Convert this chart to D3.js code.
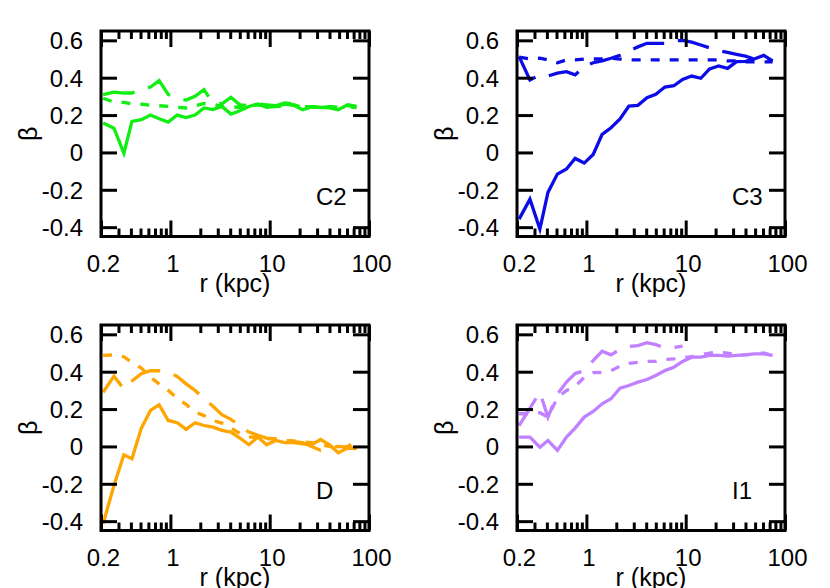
<!DOCTYPE html>
<html>
<head>
<meta charset="utf-8">
<script src="https://cdn.jsdelivr.net/npm/d3@7"></script>
<style>
  html, body { margin: 0; padding: 0; background: #fff; }
  svg { display: block; }
  text { font-family: "Liberation Sans", Arial, Helvetica, sans-serif; fill: #000; }
</style>
</head>
<body>
<svg id="chart" width="830" height="588"></svg>
<script>
// ---------------- data ----------------
const radius = [0.21, 0.27, 0.34, 0.41, 0.51, 0.63, 0.77, 0.95, 1.17, 1.44, 1.77, 2.18, 2.68, 3.3, 4.07,
                5.0, 6.17, 7.6, 9.3, 11.5, 14.2, 17.4, 21.5, 26.4, 32.5, 40, 49, 61, 75];

const c2Solid = [0.157, 0.13, -0.004, 0.166, 0.175, 0.2, 0.18, 0.162, 0.2, 0.187, 0.2, 0.238, 0.229, 0.246, 0.205,
                 0.223, 0.246, 0.259, 0.241, 0.246, 0.259, 0.252, 0.229, 0.243, 0.241, 0.238, 0.229, 0.255, 0.246];
const c2Short = [0.29, 0.27, 0.268, 0.26, 0.258, 0.252, 0.25, 0.246, 0.241, 0.238, 0.25, 0.262, 0.258, 0.246, 0.244,
                 0.242, 0.25, 0.255, 0.25, 0.245, 0.25, 0.255, 0.24, 0.245, 0.24, 0.245, 0.24, 0.25, 0.245];
const c2Long  = [0.31, 0.323, 0.318, 0.318, 0.336, 0.35, 0.384, 0.31, 0.29, 0.28, 0.3, 0.336, 0.264, 0.26, 0.295,
                 0.255, 0.25, 0.26, 0.255, 0.25, 0.265, 0.26, 0.245, 0.245, 0.24, 0.245, 0.24, 0.245, 0.24];

const c3Solid = [-0.357, -0.25, -0.41, -0.214, -0.116, -0.089, -0.032, -0.057, -0.011, 0.097, 0.132, 0.179, 0.248, 0.252, 0.293,
                 0.311, 0.35, 0.357, 0.391, 0.409, 0.397, 0.447, 0.463, 0.45, 0.486, 0.487, 0.5, 0.52, 0.49];
const c3Short = [0.51, 0.5, 0.505, 0.495, 0.48, 0.495, 0.495, 0.5, 0.5, 0.5, 0.505, 0.5, 0.495, 0.495, 0.495,
                 0.495, 0.495, 0.495, 0.495, 0.495, 0.495, 0.495, 0.495, 0.49, 0.49, 0.485, 0.485, 0.485, 0.485];
const c3Long  = [0.513, 0.388, 0.415, 0.409, 0.424, 0.432, 0.415, 0.46, 0.48, 0.49, 0.504, 0.52, 0.543, 0.565, 0.584,
                 0.584, 0.584, 0.597, 0.6, 0.59, 0.575, 0.56, 0.545, 0.535, 0.525, 0.515, 0.5, 0.495, 0.49];

const dSolid  = [-0.414, -0.209, -0.045, -0.066, 0.098, 0.193, 0.223, 0.139, 0.127, 0.091, 0.127, 0.112, 0.103, 0.086, 0.077,
                 0.045, 0.009, 0.05, 0.009, 0.032, 0.02, 0.02, 0.014, 0.009, 0.037, 0.009, -0.034, -0.009, -0.012];
const dShort  = [0.487, 0.49, 0.48, 0.45, 0.42, 0.37, 0.335, 0.3, 0.258, 0.225, 0.184, 0.165, 0.139, 0.125, 0.098,
                 0.07, 0.05, 0.05, 0.04, 0.04, 0.032, 0.03, 0.025, 0.02, 0.01, 0.0, -0.01, 0.0, 0.03];
const dLong   = [0.29, 0.376, 0.308, 0.35, 0.389, 0.405, 0.405, 0.397, 0.375, 0.335, 0.3, 0.258, 0.215, 0.17, 0.145,
                 0.11, 0.077, 0.06, 0.045, 0.04, 0.03, 0.025, 0.02, 0.0, -0.02, -0.01, 0.0, -0.005, -0.01];

const i1Solid = [0.05, 0.05, -0.004, 0.032, -0.021, 0.05, 0.098, 0.157, 0.187, 0.228, 0.255, 0.312, 0.326, 0.344, 0.358,
                 0.38, 0.406, 0.424, 0.455, 0.478, 0.478, 0.487, 0.487, 0.483, 0.487, 0.49, 0.495, 0.495, 0.487];
const i1Short = [0.175, 0.175, 0.18, 0.157, 0.26, 0.3, 0.32, 0.37, 0.395, 0.397, 0.405, 0.43, 0.445, 0.45, 0.455,
                 0.455, 0.465, 0.469, 0.475, 0.48, 0.49, 0.5, 0.505, 0.5, 0.49, 0.49, 0.495, 0.5, 0.487];
const i1Long  = [0.112, 0.205, 0.29, 0.157, 0.28, 0.345, 0.39, 0.405, 0.46, 0.51, 0.49, 0.52, 0.535, 0.54, 0.555,
                 0.545, 0.526, 0.53, 0.537];

const panelNames  = ["C2", "C3", "D", "I1"];
const panelColors = ["#11ee11", "#0c0ce8", "#ffa500", "#c080ff"];
const panelSeries = [[c2Solid, c2Short, c2Long], [c3Solid, c3Short, c3Long], [dSolid, dShort, dLong], [i1Solid, i1Short, i1Long]];
const lineDashes  = [null, "9,10", "32,14"];

const xMajorTicks  = [0.2, 1, 10, 100];
const xMajorLabels = ["0.2", "1", "10", "100"];
const xMinorTicks  = [0.3, 0.4, 0.5, 0.6, 0.7, 0.8, 0.9, 2, 3, 4, 5, 6, 7, 8, 9, 20, 30, 40, 50, 60, 70, 80, 90];
const yTicks       = [-0.4, -0.2, 0, 0.2, 0.4, 0.6];
const yTickLabels  = ["-0.4", "-0.2", "0", "0.2", "0.4", "0.6"];
const xTitle = "r (kpc)";
const yTitle = "β";

// ---------------- layout ----------------
const svg = d3.select("#chart");
const plotW = 268, plotH = 205.5;
const origins = [[101, 31], [517, 31], [101, 325], [517, 325]];

panelNames.forEach((name, pi) => {
  const [ox, oy] = origins[pi];
  const g = svg.append("g").attr("transform", `translate(${ox},${oy})`);

  const x = d3.scaleLog().domain([0.2, 100]).range([0, plotW]);
  const y = d3.scaleLinear().domain([-0.45, 0.65]).range([plotH, 0]);

  const clipId = "clip" + pi;
  g.append("clipPath").attr("id", clipId)
    .append("rect").attr("x", 0).attr("y", 0).attr("width", plotW).attr("height", plotH);

  // data lines
  const line = d3.line().x(d => x(d[0])).y(d => y(d[1]));
  const lg = g.append("g").attr("clip-path", `url(#${clipId})`);
  panelSeries[pi].forEach((vals, si) => {
    const pts = vals.map((v, i) => [radius[i], v]);
    lg.append("path")
      .attr("d", line(pts))
      .attr("fill", "none")
      .attr("stroke", panelColors[pi])
      .attr("stroke-width", 3.3)
      .attr("stroke-linejoin", "miter")
      .attr("stroke-dasharray", lineDashes[si]);
  });

  // axes (inward ticks, mirrored)
  const styleAxis = sel => {
    sel.select(".domain").remove();
    sel.selectAll(".tick line").attr("stroke", "#000").attr("stroke-width", 3);
  };
  const xb = g.append("g").attr("transform", `translate(0,${plotH})`)
    .call(d3.axisBottom(x).tickValues(xMajorTicks).tickSize(-16).tickPadding(18)
      .tickFormat((d, i) => xMajorLabels[i]));
  styleAxis(xb);
  xb.selectAll("text").attr("font-size", 24).attr("dx", 2).attr("dy", "0.71em").attr("y", 18);

  const xbm = g.append("g").attr("transform", `translate(0,${plotH})`)
    .call(d3.axisBottom(x).tickValues(xMinorTicks).tickSize(-8).tickFormat(""));
  styleAxis(xbm);
  const xt = g.append("g").call(d3.axisTop(x).tickValues(xMajorTicks).tickSize(-16).tickFormat(""));
  styleAxis(xt);
  const xtm = g.append("g").call(d3.axisTop(x).tickValues(xMinorTicks).tickSize(-8).tickFormat(""));
  styleAxis(xtm);

  const yl = g.append("g")
    .call(d3.axisLeft(y).tickValues(yTicks).tickSize(-16).tickPadding(18)
      .tickFormat((d, i) => yTickLabels[i]));
  styleAxis(yl);
  yl.selectAll("text").attr("font-size", 24).attr("dy", "0.35em");
  const yr = g.append("g").attr("transform", `translate(${plotW},0)`)
    .call(d3.axisRight(y).tickValues(yTicks).tickSize(-16).tickFormat(""));
  styleAxis(yr);

  // frame
  g.append("rect").attr("x", 0).attr("y", 0).attr("width", plotW).attr("height", plotH)
    .attr("fill", "none").attr("stroke", "#000").attr("stroke-width", 3);

  // titles
  g.append("text").attr("x", plotW / 2).attr("y", plotH + 55.5)
    .attr("text-anchor", "middle").attr("font-size", 25).text(xTitle);
  g.append("text")
    .attr("transform", `translate(${-73},${plotH / 2}) rotate(-90)`)
    .attr("text-anchor", "middle").attr("dy", "0.35em").attr("font-size", 25).text(yTitle);

  // panel name
  g.append("text").attr("x", plotW - 53).attr("y", plotH - 31.5)
    .attr("text-anchor", "start").attr("font-size", 24).text(name);
});
</script>
</body>
</html>
